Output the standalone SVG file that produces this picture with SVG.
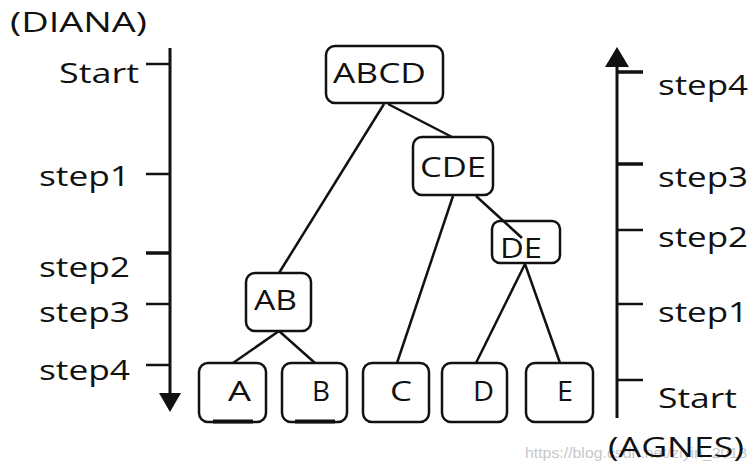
<svg xmlns="http://www.w3.org/2000/svg" width="756" height="476" viewBox="0 0 756 476">
<style>
.t{font-family:"Open Sans","DejaVu Sans",sans-serif;font-size:27px;fill:#111}
.box{fill:#fff;stroke:#111;stroke-width:2.5}
.ln{stroke:#111;stroke-width:2.5;fill:none}
.ax{stroke:#111;stroke-width:3;fill:none}
.tk{stroke:#111;stroke-width:2.5}
.wm{font-family:"Liberation Sans",Arial,sans-serif;font-size:14.5px;fill:#c8c8c8}
</style>
<defs>
<marker id="ah" viewBox="0 0 10 10" refX="10" refY="5" markerWidth="8" markerHeight="8" markerUnits="userSpaceOnUse" orient="auto">
<path d="M0,0 L10,5 L0,10 Z" fill="#111"/>
</marker>
</defs>
<rect width="756" height="476" fill="#fff"/>

<text class="wm" x="525" y="458" textLength="222" lengthAdjust="spacingAndGlyphs">https://blog.csdn.net/ziyin_2018</text>

<g id="diana-axis">
<line class="ax" x1="170" y1="48" x2="170" y2="395"/>
<polygon points="159,393 181,393 170,412" fill="#111"/>
<line class="tk" x1="146" y1="64" x2="170" y2="64"/>
<line class="tk" x1="146" y1="174" x2="170" y2="174"/>
<line class="tk" x1="146" y1="253" x2="170" y2="253" style="stroke-width:3.5"/>
<line class="tk" x1="146" y1="304" x2="170" y2="304"/>
<line class="tk" x1="146" y1="365" x2="170" y2="365"/>
<text class="t" x="10" y="32" textLength="137" lengthAdjust="spacingAndGlyphs">(DIANA)</text>
<text class="t" x="59" y="83" textLength="80" lengthAdjust="spacingAndGlyphs">Start</text>
<text class="t" x="39" y="186" textLength="91" lengthAdjust="spacingAndGlyphs">step1</text>
<text class="t" x="39" y="277" textLength="91" lengthAdjust="spacingAndGlyphs">step2</text>
<text class="t" x="39" y="322" textLength="91" lengthAdjust="spacingAndGlyphs">step3</text>
<text class="t" x="39" y="380" textLength="91" lengthAdjust="spacingAndGlyphs">step4</text>
</g>

<g id="agnes-axis">
<line class="ax" x1="617" y1="418" x2="617" y2="64"/>
<polygon points="605,67 629,67 617,47" fill="#111"/>
<line class="tk" x1="617" y1="72" x2="643" y2="72" style="stroke-width:3.5"/>
<line class="tk" x1="617" y1="164" x2="643" y2="164" style="stroke-width:3.5"/>
<line class="tk" x1="617" y1="230" x2="643" y2="230"/>
<line class="tk" x1="617" y1="304" x2="643" y2="304"/>
<line class="tk" x1="617" y1="380" x2="643" y2="380"/>
<text class="t" x="658" y="95" textLength="90" lengthAdjust="spacingAndGlyphs">step4</text>
<text class="t" x="658" y="187" textLength="90" lengthAdjust="spacingAndGlyphs">step3</text>
<text class="t" x="658" y="247" textLength="90" lengthAdjust="spacingAndGlyphs">step2</text>
<text class="t" x="658" y="322" textLength="90" lengthAdjust="spacingAndGlyphs">step1</text>
<text class="t" x="658" y="408" textLength="79" lengthAdjust="spacingAndGlyphs">Start</text>
<text class="t" x="608" y="457" textLength="136" lengthAdjust="spacingAndGlyphs">(AGNES)</text>
</g>

<g id="connectors">
<line class="ln" x1="384" y1="104" x2="279" y2="273"/>
<line class="ln" x1="388" y1="104" x2="452" y2="137"/>
<line class="ln" x1="453" y1="196" x2="397" y2="363"/>
<line class="ln" x1="525" y1="264" x2="476" y2="363"/>
<line class="ln" x1="525" y1="264" x2="560" y2="363"/>
<line class="ln" x1="279" y1="331" x2="233" y2="363"/>
<line class="ln" x1="279" y1="331" x2="315" y2="363"/>
</g>

<g id="node-ABCD">
<rect class="box" x="326" y="46" width="117" height="57" rx="9"/>
<text class="t" x="333" y="83" textLength="93" lengthAdjust="spacingAndGlyphs">ABCD</text>
</g>
<g id="node-CDE">
<rect class="box" x="413" y="137" width="80" height="58" rx="9"/>
<text class="t" x="420" y="177" textLength="66" lengthAdjust="spacingAndGlyphs">CDE</text>
</g>
<g id="node-DE">
<rect class="box" x="492" y="221" width="68" height="42" rx="8"/>
<text class="t" x="500" y="258" textLength="42" lengthAdjust="spacingAndGlyphs">DE</text>
<line class="ln" x1="476" y1="196" x2="522" y2="238"/>
</g>
<g id="node-AB">
<rect class="box" x="246" y="273" width="65" height="58" rx="9"/>
<text class="t" x="254" y="310" textLength="43" lengthAdjust="spacingAndGlyphs">AB</text>
</g>
<g id="node-A">
<rect class="box" x="199" y="363" width="67" height="59" rx="9"/>
<line x1="213" y1="421.5" x2="253" y2="421.5" stroke="#111" stroke-width="4"/>
<text class="t" x="228" y="401" textLength="23" lengthAdjust="spacingAndGlyphs">A</text>
</g>
<g id="node-B">
<rect class="box" x="282" y="363" width="65" height="59" rx="9"/>
<line x1="295" y1="421.5" x2="335" y2="421.5" stroke="#111" stroke-width="4"/>
<text class="t" x="312" y="401" textLength="18" lengthAdjust="spacingAndGlyphs">B</text>
</g>
<g id="node-C">
<rect class="box" x="363" y="363" width="66" height="59" rx="9"/>
<text class="t" x="390" y="401" textLength="22" lengthAdjust="spacingAndGlyphs">C</text>
</g>
<g id="node-D">
<rect class="box" x="442" y="363" width="65" height="59" rx="9"/>
<text class="t" x="473" y="401" textLength="21" lengthAdjust="spacingAndGlyphs">D</text>
</g>
<g id="node-E">
<rect class="box" x="526" y="363" width="67" height="59" rx="9"/>
<text class="t" x="557" y="401" textLength="16" lengthAdjust="spacingAndGlyphs">E</text>
</g>
</svg>
